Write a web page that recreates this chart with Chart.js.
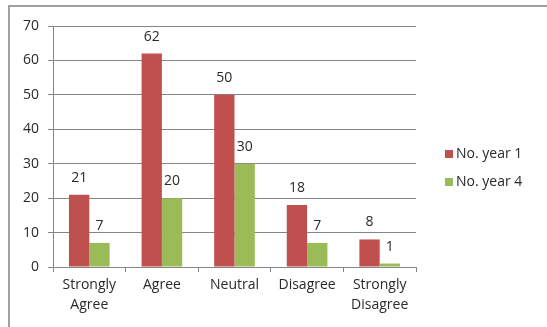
<!DOCTYPE html>
<html>
<head>
<meta charset="utf-8">
<script src="https://cdn.jsdelivr.net/npm/chart.js@4/dist/chart.umd.min.js"></script>
<style>
  html, body { margin: 0; padding: 0; background: #fff; }
  #wrap { position: relative; width: 547px; height: 327px; overflow: hidden; }
  #frame { position: absolute; left: 8px; top: 5px; width: 600px; height: 400px;
           border-top: 2px solid #a0a0a0; border-left: 2px solid #a0a0a0; }
  canvas { position: absolute; left: 0; top: 0; }
</style>
</head>
<body>
<div id="wrap">
  <div id="frame"></div>
  <canvas id="chart" width="547" height="327"></canvas>
</div>
<script>
// datos
var categorias = [["Strongly", "Agree"], "Agree", "Neutral", "Disagree", ["Strongly", "Disagree"]];
var anio1 = [21, 62, 50, 18, 8];
var anio4 = [7, 20, 30, 7, 1];
var nombres = ["No. year 1", "No. year 4"];
var colores = ["#c0504d", "#9bbb59"];

var fuente = "'Open Sans', 'Liberation Sans', sans-serif";
var gris = "#858585";

// etiquetas encima de cada barra
var etiquetas = {
  id: "etiquetas",
  afterDatasetsDraw: function (chart) {
    var ctx = chart.ctx;
    ctx.save();
    ctx.font = "14px " + fuente;
    ctx.fillStyle = "#2a2a2a";
    ctx.textAlign = "center";
    ctx.textBaseline = "middle";
    chart.data.datasets.forEach(function (ds, i) {
      chart.getDatasetMeta(i).data.forEach(function (bar, j) {
        ctx.fillText(ds.data[j], bar.x, bar.y - 17);
      });
    });
    ctx.restore();
  }
};

// leyenda a la derecha
var leyenda = {
  id: "leyenda",
  afterDraw: function (chart) {
    var ctx = chart.ctx;
    ctx.save();
    ctx.font = "14px " + fuente;
    ctx.textBaseline = "middle";
    chart.data.datasets.forEach(function (ds, i) {
      var y = 154 + i * 28;
      ctx.fillStyle = ds.backgroundColor;
      ctx.fillRect(445, y - 4, 8, 8);
      ctx.fillStyle = "#2a2a2a";
      ctx.fillText(ds.label, 456, y);
    });
    ctx.restore();
  }
};

var ctx = document.getElementById("chart").getContext("2d");

var chart = new Chart(ctx, {
  type: "bar",
  data: {
    labels: categorias,
    datasets: [
      { label: nombres[0], data: anio1, backgroundColor: colores[0] },
      { label: nombres[1], data: anio4, backgroundColor: colores[1] }
    ]
  },
  options: {
    responsive: false,
    animation: false,
    layout: { padding: { left: 10, top: 26, right: 131, bottom: 0 } },
    plugins: {
      legend: { display: false },
      tooltip: { enabled: false }
    },
    datasets: {
      bar: { categoryPercentage: 0.56, barPercentage: 1.0 }
    },
    scales: {
      x: {
        grid: { display: true, drawOnChartArea: false, color: gris, tickLength: 5 },
        border: { color: gris },
        ticks: { color: "#2a2a2a", font: { family: fuente, size: 14, lineHeight: 1.45 }, padding: 3, maxRotation: 0, autoSkip: false },
        afterFit: function (axis) { axis.height = 60; }
      },
      y: {
        min: 0,
        max: 70,
        ticks: { stepSize: 10, color: "#2a2a2a", font: { family: fuente, size: 14 }, padding: 9 },
        grid: { color: gris, tickLength: 5 },
        border: { color: gris },
        afterFit: function (axis) { axis.width = 43; }
      }
    }
  },
  plugins: [etiquetas, leyenda]
});
</script>
</body>
</html>
